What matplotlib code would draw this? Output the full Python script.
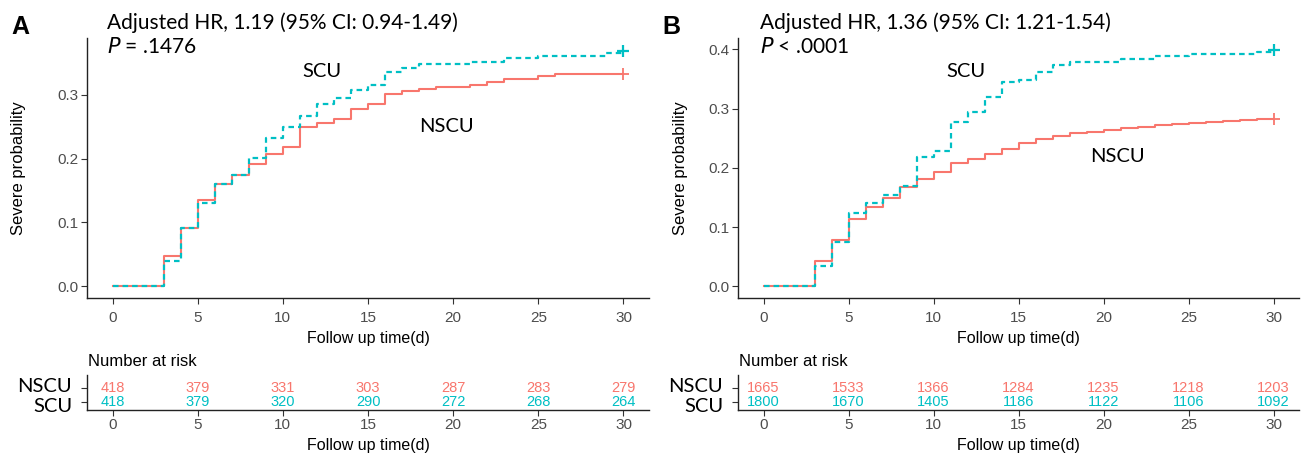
import matplotlib
matplotlib.use("Agg")
import matplotlib.pyplot as plt

W, H = 1303, 455

# ---- data ----
days_a_nscu = [0, 3, 4, 5, 6, 7, 8, 9, 10, 11, 12, 13, 14, 15, 16, 17, 18, 19, 21, 22, 23, 25, 26, 30]
prob_a_nscu = [0, 0.047, 0.092, 0.136, 0.160, 0.174, 0.191, 0.208, 0.218, 0.249, 0.256, 0.262,
               0.277, 0.286, 0.302, 0.306, 0.309, 0.313, 0.316, 0.320, 0.324, 0.329, 0.333, 0.333]
days_a_scu = [0, 3, 4, 5, 6, 7, 8, 9, 10, 11, 12, 13, 14, 15, 16, 17, 18, 21, 23, 25, 29, 30]
prob_a_scu = [0, 0.040, 0.092, 0.130, 0.160, 0.174, 0.201, 0.233, 0.249, 0.267, 0.285, 0.295,
              0.307, 0.315, 0.335, 0.342, 0.349, 0.352, 0.357, 0.361, 0.366, 0.369]

days_b_nscu = [0, 3, 4, 5, 6, 7, 8, 9, 10, 11, 12, 13, 14, 15, 16, 17, 18, 19, 20, 21, 22, 23,
               24, 25, 26, 27, 28, 29, 30]
prob_b_nscu = [0, 0.043, 0.078, 0.114, 0.134, 0.149, 0.168, 0.181, 0.193, 0.208, 0.215, 0.223,
               0.231, 0.241, 0.248, 0.254, 0.258, 0.261, 0.264, 0.267, 0.269, 0.272, 0.274,
               0.275, 0.278, 0.279, 0.281, 0.282, 0.283]
days_b_scu = [0, 3, 4, 5, 6, 7, 8, 9, 10, 11, 12, 13, 14, 15, 16, 17, 18, 21, 23, 25, 29, 30]
prob_b_scu = [0, 0.034, 0.074, 0.123, 0.140, 0.154, 0.170, 0.219, 0.228, 0.277, 0.294, 0.319,
              0.345, 0.348, 0.362, 0.373, 0.379, 0.384, 0.388, 0.392, 0.396, 0.398]

risk_times = [0, 5, 10, 15, 20, 25, 30]
risk_a_nscu = [418, 379, 331, 303, 287, 283, 279]
risk_a_scu = [418, 379, 320, 290, 272, 268, 264]
risk_b_nscu = [1665, 1533, 1366, 1284, 1235, 1218, 1203]
risk_b_scu = [1800, 1670, 1405, 1186, 1122, 1106, 1092]

titles = ["Adjusted HR, 1.19 (95% CI: 0.94-1.49)", "Adjusted HR, 1.36 (95% CI: 1.21-1.54)"]
pvals = [("=", ".1476"), ("<", ".0001")]

RED = "#F8766D"
TEAL = "#00BFC4"
NARROW = ["Liberation Sans Narrow", "Liberation Sans", "DejaVu Sans"]
CAL = ["Lato", "DejaVu Sans"]
TICKC = "#4D4D4D"

fig = plt.figure(figsize=(W / 100, H / 100), dpi=100)


def px_axes(l, t, r, b):
    return fig.add_axes([l / W, 1 - b / H, (r - l) / W, (b - t) / H])


def style(ax, xpad=2):
    for s in ["top", "right"]:
        ax.spines[s].set_visible(False)
    for s in ["left", "bottom"]:
        ax.spines[s].set_linewidth(1.0)
        ax.spines[s].set_color("#222222")
    ax.tick_params(length=4, width=0.8, color="#333333", labelcolor=TICKC, pad=2)
    ax.tick_params(axis="x", pad=xpad)
    for lab in ax.get_xticklabels() + ax.get_yticklabels():
        lab.set_family(NARROW)
        lab.set_fontsize(11)


def km_panel(l, r, ymax, yticks, nscu, scu, title, pv, scu_xy, nscu_xy, letter, lx, ylpad):
    ax = px_axes(l, 38, r, 298)
    ax.step(nscu[0], nscu[1], where="post", color=RED, lw=1.5, zorder=2)
    ax.step(scu[0], scu[1], where="post", color=TEAL, lw=1.6, ls=(0, (2.5, 1.8)), zorder=3)
    ax.plot([nscu[0][-1]], [nscu[1][-1]], "+", color=RED, ms=8, mew=1.3)
    ax.plot([scu[0][-1]], [scu[1][-1]], "+", color=TEAL, ms=8, mew=1.6)
    ax.set_xlim(-1.5, 31.5)
    ax.set_ylim(-ymax * 0.047, ymax)
    ax.set_xticks(risk_times)
    ax.set_yticks(yticks)
    ax.set_yticklabels([f"{v:.1f}" for v in yticks])
    style(ax, xpad=5)
    ax.set_xlabel("Follow up time(d)", family=NARROW, fontsize=11.5, labelpad=5)
    ax.set_ylabel("Severe probability", family=NARROW, fontsize=12, labelpad=ylpad)
    ax.text(scu_xy[0], scu_xy[1], "SCU", family=CAL, fontsize=14.5, ha="center", va="center")
    ax.text(nscu_xy[0], nscu_xy[1], "NSCU", family=CAL, fontsize=14.5, ha="center", va="center")
    fig.text(lx / W, 1 - 23 / H, title, family=CAL, fontsize=15, va="center")
    fig.text(lx / W, 1 - 47 / H, f"$P$ {pv[0]} {pv[1]}", family=CAL, fontsize=15,
             va="center", math_fontfamily="dejavusans")
    fig.text((l - 76) / W, 1 - 27 / H, letter, family=["Liberation Sans", "DejaVu Sans"],
             fontsize=18, fontweight="bold", va="center")
    return ax


def risk_panel(l, r, nscu, scu):
    ax = px_axes(l, 375, r, 410)
    for t, n in zip(risk_times, nscu):
        ax.text(t, 1, str(n), color=RED, family=NARROW, fontsize=10.5, ha="center", va="center")
    for t, n in zip(risk_times, scu):
        ax.text(t, 0, str(n), color=TEAL, family=NARROW, fontsize=10.5, ha="center", va="center")
    ax.set_xlim(-1.5, 31.5)
    ax.set_ylim(-0.57, 1.93)
    ax.set_xticks(risk_times)
    ax.set_yticks([0, 1])
    ax.set_yticklabels([])
    style(ax)
    # group names sit a little apart from the tick rows, as in the original
    fig.text((l - 15) / W, 1 - 387 / H, "NSCU", family=CAL, fontsize=14.5, ha="right",
             va="center")
    fig.text((l - 15) / W, 1 - 406 / H, "SCU", family=CAL, fontsize=14.5, ha="right",
             va="center")
    ax.set_xlabel("Follow up time(d)", family=NARROW, fontsize=11.5, labelpad=4)
    fig.text((l + 1) / W, 1 - 362 / H, "Number at risk", family=NARROW, fontsize=12,
             va="center")
    return ax


km_panel(87, 649, 0.389, [0, 0.1, 0.2, 0.3],
         (days_a_nscu, prob_a_nscu), (days_a_scu, prob_a_scu),
         titles[0], pvals[0], (12.3, 0.336), (19.6, 0.25), "A", 107, 23)
km_panel(738, 1299, 0.419, [0, 0.1, 0.2, 0.3, 0.4],
         (days_b_nscu, prob_b_nscu), (days_b_scu, prob_b_scu),
         titles[1], pvals[1], (11.9, 0.363), (20.8, 0.219), "B", 760, 15)
risk_panel(87, 649, risk_a_nscu, risk_a_scu)
risk_panel(738, 1299, risk_b_nscu, risk_b_scu)

fig.savefig("out.png", dpi=100)
